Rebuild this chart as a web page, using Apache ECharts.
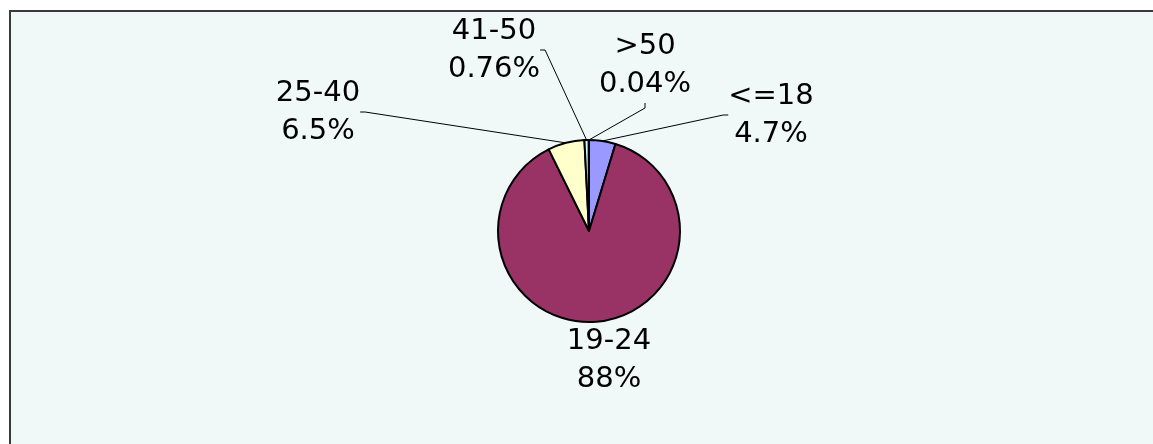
<!DOCTYPE html>
<html>
<head>
<meta charset="utf-8">
<script src="https://cdn.jsdelivr.net/npm/echarts@6/dist/echarts.min.js"></script>
<style>
  html, body { margin: 0; padding: 0; background: #ffffff; overflow: hidden; }
  #frame { position: absolute; left: 9px; top: 10px; width: 1160px; height: 450px;
           border: 2px solid #3a3a3a; background: #F0F8F8; }
  #chart { position: absolute; left: 0; top: 0; width: 1153px; height: 444px; }
</style>
</head>
<body>
<div id="frame"></div>
<div id="chart"></div>
<script>
// Data
const categories = ['<=18', '19-24', '25-40', '41-50', '>50'];
const shares = [4.7, 88, 6.5, 0.76, 0.04];
const sliceColors = ['#9999FF', '#993366', '#FFFFCC', '#CCFFFF', '#660066'];

// Label placement (layout only)
const labelSpots = [[771, 115], [609, 360], [318, 112], [494, 50], [645, 65]];

const chart = echarts.init(document.getElementById('chart'), null, { renderer: 'canvas' });

const data = categories.map((name, i) => ({
  name: name,
  value: shares[i],
  itemStyle: { color: sliceColors[i] },
  labelLine: { show: name !== '19-24' }
}));

chart.setOption({
  backgroundColor: 'transparent',
  animation: false,
  series: [{
    type: 'pie',
    center: [589, 231],
    radius: [0, 91],
    startAngle: 90,
    clockwise: true,
    avoidLabelOverlap: false,
    emphasis: { disabled: true },
    itemStyle: { borderColor: '#000', borderWidth: 2 },
    label: {
      show: true,
      position: 'outside',
      formatter: '{b}\n{c}%',
      fontFamily: 'DejaVu Sans',
      fontSize: 29,
      lineHeight: 38,
      color: '#000'
    },
    labelLine: {
      show: true,
      length: 10,
      length2: 5,
      smooth: false,
      lineStyle: { color: '#000', width: 1 }
    },
    labelLayout: function (params) {
      const p = labelSpots[params.dataIndex];
      return { x: p[0], y: p[1], align: 'center', verticalAlign: 'middle' };
    },
    data: data
  }]
});
</script>
</body>
</html>
